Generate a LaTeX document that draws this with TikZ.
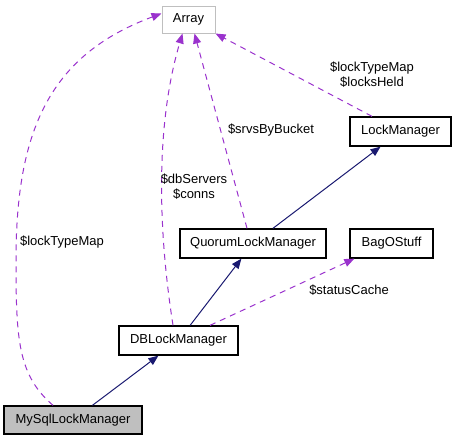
\documentclass[tikz,border=0pt]{standalone}
\usepackage{fontspec}
\setmainfont{Liberation Sans}
\usetikzlibrary{arrows.meta}
\definecolor{edgepurple}{HTML}{9A32CD}
\definecolor{edgenavy}{HTML}{191970}
\definecolor{lightgray}{HTML}{BFBFBF}
\begin{document}
\begin{tikzpicture}[x=1pt,y=-1pt,
  cls/.style={draw=black, line width=1.3pt, inner sep=0pt, font=\fontsize{13}{15}\selectfont, minimum height=29pt},
  inh/.style={draw=edgenavy, line width=1pt, -{Triangle[length=10pt,width=8pt,fill=edgenavy]}},
  use/.style={draw=edgepurple, line width=1pt, dash pattern=on 6pt off 5pt, -{Triangle[length=10pt,width=8pt,fill=edgepurple]}},
  lbl/.style={font=\fontsize{13}{15}\selectfont, inner sep=0pt, align=center}]
\useasboundingbox (0,0) rectangle (455,440);
\node[cls, draw=lightgray, line width=1pt, minimum width=53pt, minimum height=27pt] (array) at (188.5,19.5) {Array};
\node[cls, minimum width=101pt] (lockmgr) at (400.5,131.5) {LockManager};
\node[cls, minimum width=146pt] (quorum) at (253,243.5) {QuorumLockManager};
\node[cls, minimum width=83pt] (bag) at (391.5,243.5) {BagOStuff};
\node[cls, minimum width=119pt] (db) at (178.5,340.5) {DBLockManager};
\node[cls, fill=lightgray, minimum width=138pt, minimum height=28pt] (mysql) at (73,420) {MySqlLockManager};

\draw[inh] (mysql) -- (db);
\draw[inh] (db) -- (quorum);
\draw[inh] (quorum) -- (lockmgr);

\draw[use] ([xshift=31.5pt]db.north) -- ([xshift=5pt]bag.south west);
\node[lbl] (lstatus) at (349,290) {\$statusCache};

\draw[use] ([xshift=-5.5pt]db.north) .. controls (166,280) and (148,150) .. ([xshift=-6pt]array.south);
\node[lbl] (ldb) at (194,186.5) {\$dbServers\\\$conns};

\draw[use] ([xshift=-6pt]quorum.north) -- ([xshift=6pt]array.south);
\node[lbl] (lsrvs) at (271,130) {\$srvsByBucket};

\draw[use] ([xshift=-28.5pt]lockmgr.north) -- (array.south east);
\node[lbl] (llm) at (372,75) {\$lockTypeMap\\\$locksHeld};

\draw[use] ([xshift=-20pt]mysql.north) .. controls (18,375) and (16,340) .. (16,260) .. controls (16,130) and (50,55) .. ([yshift=6pt]array.west);
\node[lbl] (lmysql) at (62,242) {\$lockTypeMap};
\end{tikzpicture}
\end{document}
